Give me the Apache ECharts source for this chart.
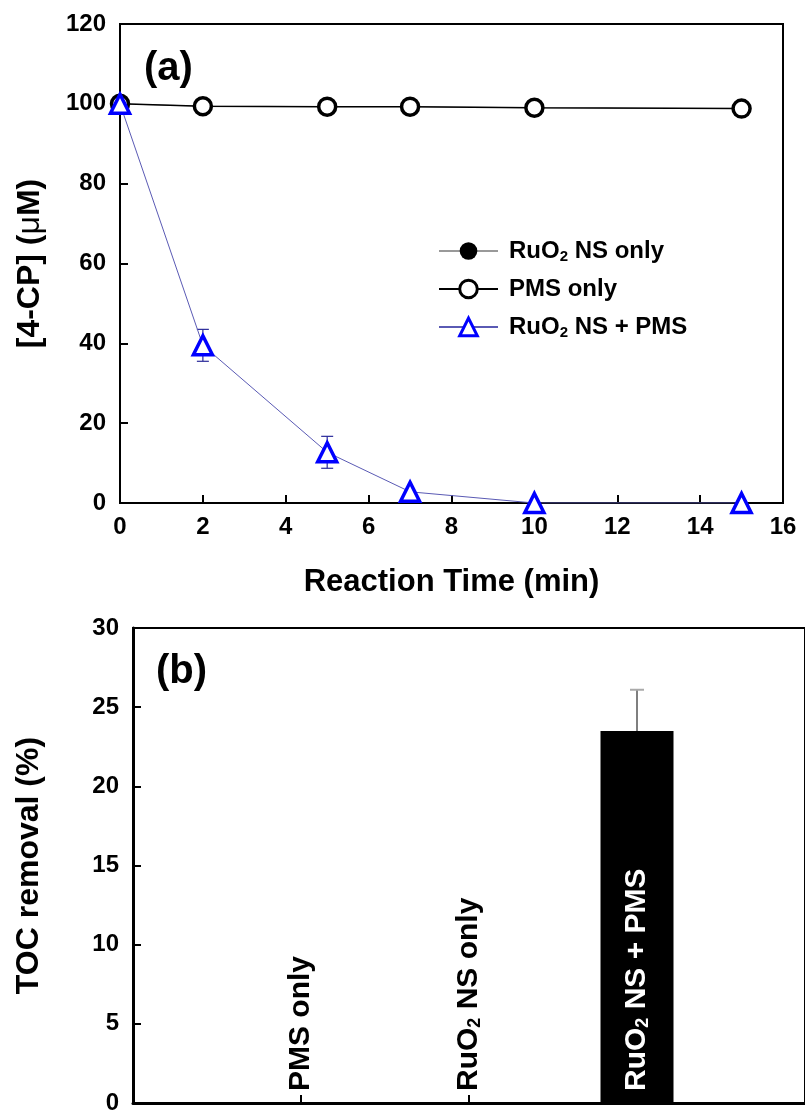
<!DOCTYPE html>
<html>
<head>
<meta charset="utf-8">
<script src="https://cdn.jsdelivr.net/npm/echarts@6/dist/echarts.min.js"></script>
<style>
  html, body { margin: 0; padding: 0; background: #fff; }
  #chart { width: 805px; height: 1115px; }
</style>
</head>
<body>
<div id="chart"></div>
<script>
// (a) 4-CP decay
var timeMin = [0, 2, 5, 7, 10, 15];
var ruo2Only = [100, 99.4, 99.3, 99.3, 99.0, 98.8];
var pmsOnly = [100, 99.4, 99.3, 99.3, 99.0, 98.8];
var ruo2Pms = [100, 39.5, 12.7, 2.8, 0, 0];
var ruo2PmsErr = [0, 4, 4, 0, 0, 0];

// (b) TOC removal
var tocNames = ['PMS only', 'RuO₂ NS only', 'RuO₂ NS + PMS'];
var tocPos = [1, 2, 3];
var tocRemoval = [0, 0, 23.5];
var tocErr = [0, 0, 2.6];

var FONT = 'Liberation Sans, Arial, sans-serif';

function pairs(xs, ys) {
    return xs.map(function (x, i) { return [x, ys[i]]; });
}
function subText(s) {
    return s.replace('₂', '{sub|2}');
}

var errA = [];
timeMin.forEach(function (t, i) {
    if (ruo2PmsErr[i] > 0) errA.push([t, ruo2Pms[i], ruo2PmsErr[i]]);
});
var errB = [];
tocPos.forEach(function (p, i) {
    if (tocErr[i] > 0) errB.push([p, tocRemoval[i], tocErr[i]]);
});

var myChart = echarts.init(document.getElementById('chart'));

var tickLabel = {
    fontSize: 24,
    fontWeight: 'bold',
    fontFamily: FONT,
    color: '#000'
};

myChart.setOption({
    animation: false,
    backgroundColor: '#fff',
    title: [
        {
            text: '(a)', left: 139, top: 44,
            textStyle: { fontSize: 40, fontWeight: 'bold', fontFamily: FONT, color: '#000' }
        },
        {
            text: '(b)', left: 151, top: 647,
            textStyle: { fontSize: 40, fontWeight: 'bold', fontFamily: FONT, color: '#000' }
        }
    ],
    legend: {
        data: [
            { name: 'RuO₂ NS only' },
            { name: 'PMS only', itemStyle: { borderWidth: 3 } },
            { name: 'RuO₂ NS + PMS', itemStyle: { borderWidth: 3 } }
        ],
        orient: 'vertical',
        left: 433,
        top: 233,
        itemWidth: 59,
        itemHeight: 22,
        itemGap: 12,
        formatter: function (name) { return subText(name); },
        textStyle: {
            fontSize: 24,
            fontWeight: 'bold',
            fontFamily: FONT,
            color: '#000',
            lineHeight: 26,
            padding: [0, 0, 0, 6],
            rich: {
                sub: { fontSize: 15, fontWeight: 'bold', fontFamily: FONT, verticalAlign: 'bottom', lineHeight: 10 }
            }
        }
    },
    grid: [
        { left: 120, top: 24, width: 663, height: 479, show: true, borderColor: '#000', borderWidth: 2 },
        { left: 133, top: 628, width: 672, height: 480, show: true, borderColor: '#000', borderWidth: 2 }
    ],
    xAxis: [
        {
            gridIndex: 0, type: 'value', min: 0, max: 16, interval: 2,
            name: 'Reaction Time (min)', nameLocation: 'middle', nameGap: 64,
            nameTextStyle: { fontSize: 31, fontWeight: 'bold', fontFamily: FONT, color: '#000' },
            axisLine: { lineStyle: { color: '#000', width: 2 } },
            axisTick: { inside: true, length: 8, lineStyle: { color: '#000', width: 2 } },
            axisLabel: Object.assign({ margin: 12 }, tickLabel),
            splitLine: { show: false }
        },
        {
            gridIndex: 1, type: 'value', min: 0, max: 4, interval: 1,
            axisLine: { lineStyle: { color: '#000', width: 3 } },
            axisTick: { inside: true, length: 8, lineStyle: { color: '#000', width: 2 } },
            axisLabel: { show: false },
            splitLine: { show: false }
        }
    ],
    yAxis: [
        {
            gridIndex: 0, type: 'value', min: 0, max: 120, interval: 20,
            name: '[4-CP] ({mu|μ}M)', nameLocation: 'middle', nameGap: 74, nameRotate: 90,
            nameTextStyle: {
                fontSize: 32, fontWeight: 'bold', fontFamily: FONT, color: '#000',
                rich: { mu: { fontSize: 32, fontWeight: 'normal', fontFamily: FONT, color: '#000' } }
            },
            axisLine: { lineStyle: { color: '#000', width: 2 } },
            axisTick: { inside: true, length: 8, lineStyle: { color: '#000', width: 2 } },
            axisLabel: Object.assign({ margin: 14 }, tickLabel),
            splitLine: { show: false }
        },
        {
            gridIndex: 1, type: 'value', min: 0, max: 30, interval: 5,
            name: 'TOC removal (%)', nameLocation: 'middle', nameGap: 88, nameRotate: 90,
            nameTextStyle: { fontSize: 32, fontWeight: 'bold', fontFamily: FONT, color: '#000' },
            axisLine: { lineStyle: { color: '#000', width: 3 } },
            axisTick: { inside: true, length: 8, lineStyle: { color: '#000', width: 2 } },
            axisLabel: Object.assign({ margin: 14 }, tickLabel),
            splitLine: { show: false }
        }
    ],
    series: [
        {
            name: 'RuO₂ NS only',
            type: 'line',
            xAxisIndex: 0, yAxisIndex: 0,
            data: pairs(timeMin, ruo2Only),
            symbol: 'circle', symbolSize: 18,
            itemStyle: { color: '#000' },
            lineStyle: { color: '#999', width: 1 },
            z: 2
        },
        {
            name: 'PMS only',
            type: 'line',
            xAxisIndex: 0, yAxisIndex: 0,
            data: pairs(timeMin, pmsOnly),
            symbol: 'circle', symbolSize: 17,
            itemStyle: { color: '#fff', borderColor: '#000', borderWidth: 3.5 },
            lineStyle: { color: '#000', width: 1.5 },
            z: 3
        },
        {
            name: 'error-a',
            type: 'custom',
            xAxisIndex: 0, yAxisIndex: 0,
            data: errA,
            z: 3,
            renderItem: function (params, api) {
                var x = api.value(0), y = api.value(1), e = api.value(2);
                var top = api.coord([x, y + e]);
                var bot = api.coord([x, y - e]);
                var st = { stroke: '#2a2a9a', lineWidth: 1.2 };
                return {
                    type: 'group',
                    children: [
                        { type: 'line', shape: { x1: top[0], y1: top[1], x2: bot[0], y2: bot[1] }, style: st },
                        { type: 'line', shape: { x1: top[0] - 6, y1: top[1], x2: top[0] + 6, y2: top[1] }, style: st },
                        { type: 'line', shape: { x1: bot[0] - 6, y1: bot[1], x2: bot[0] + 6, y2: bot[1] }, style: st }
                    ]
                };
            }
        },
        {
            name: 'RuO₂ NS + PMS',
            type: 'line',
            xAxisIndex: 0, yAxisIndex: 0,
            data: pairs(timeMin, ruo2Pms),
            symbol: 'triangle', symbolSize: 19,
            itemStyle: { color: '#fff', borderColor: '#0000ff', borderWidth: 3.5 },
            lineStyle: { color: '#5a5ab4', width: 1 },
            z: 4
        },
        {
            name: 'TOC',
            type: 'bar',
            xAxisIndex: 1, yAxisIndex: 1,
            barWidth: 73,
            itemStyle: { color: '#000' },
            data: tocPos.map(function (p, i) {
                return {
                    value: [p, tocRemoval[i]],
                    name: tocNames[i],
                    label: { color: tocRemoval[i] > 0 ? '#fff' : '#000' }
                };
            }),
            label: {
                show: true,
                position: 'insideBottom',
                distance: 12,
                rotate: 90,
                align: 'left',
                verticalAlign: 'middle',
                fontSize: 30,
                fontWeight: 'bold',
                fontFamily: FONT,
                formatter: function (p) { return subText(p.name); },
                rich: {
                    sub: { fontSize: 18, fontWeight: 'bold', fontFamily: FONT, verticalAlign: 'bottom', lineHeight: 12 }
                }
            },
            z: 2
        },
        {
            name: 'error-b',
            type: 'custom',
            xAxisIndex: 1, yAxisIndex: 1,
            data: errB,
            z: 1,
            renderItem: function (params, api) {
                var x = api.value(0), y = api.value(1), e = api.value(2);
                var top = api.coord([x, y + e]);
                var bot = api.coord([x, y]);
                return {
                    type: 'group',
                    children: [
                        { type: 'line', shape: { x1: top[0], y1: top[1], x2: bot[0], y2: bot[1] }, style: { stroke: '#555', lineWidth: 1.5 } },
                        { type: 'line', shape: { x1: top[0] - 7, y1: top[1], x2: top[0] + 7, y2: top[1] }, style: { stroke: '#aaa', lineWidth: 2 } }
                    ]
                };
            }
        }
    ]
});
</script>
</body>
</html>
